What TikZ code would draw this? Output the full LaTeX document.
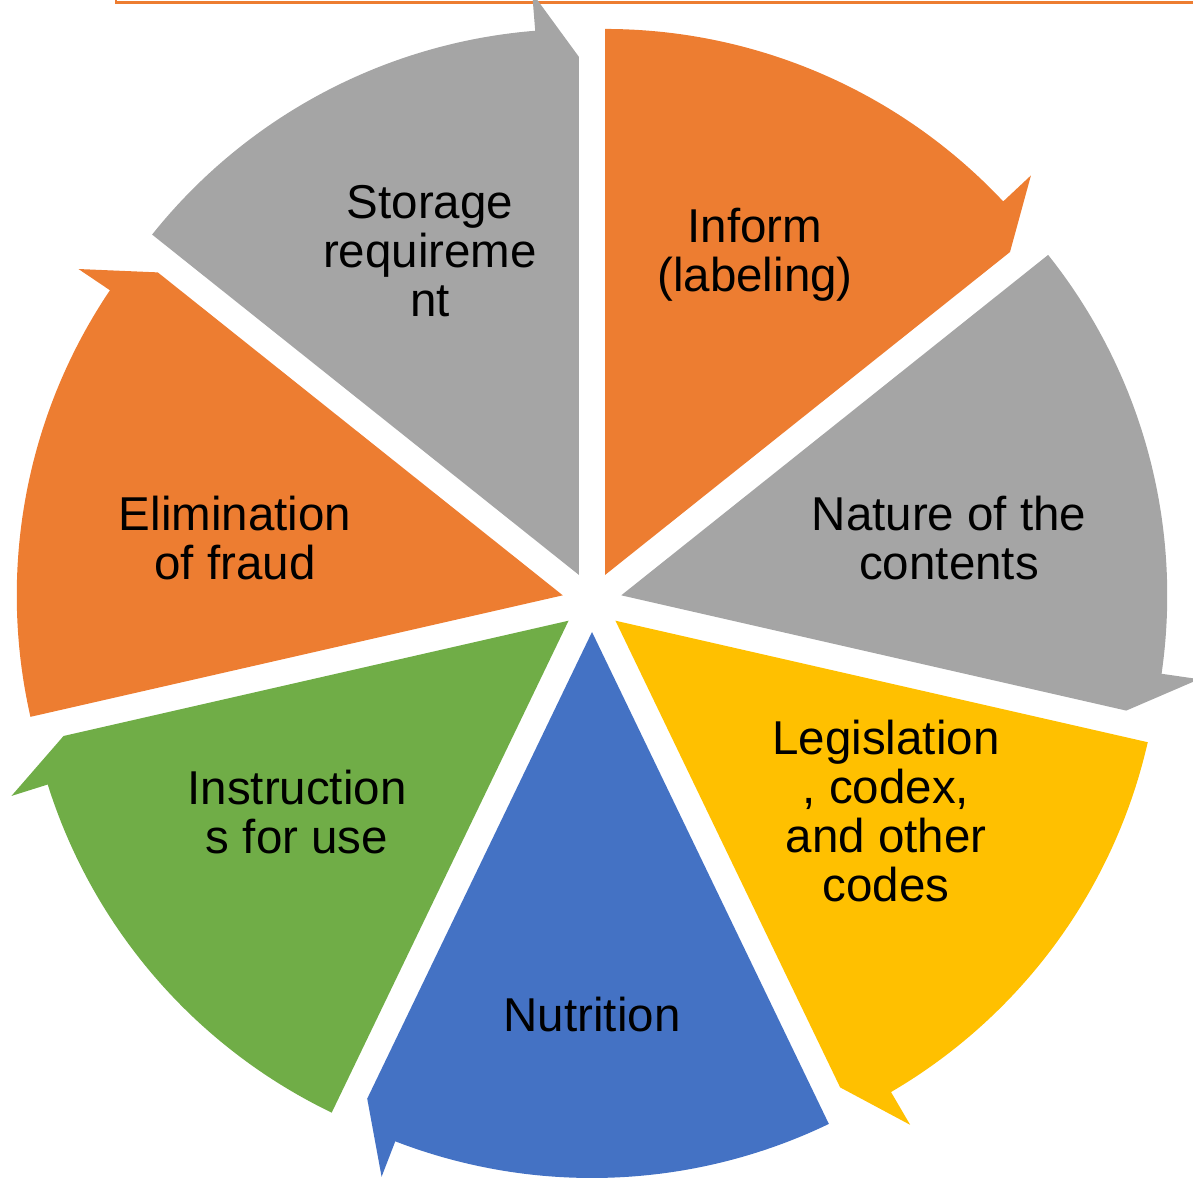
\documentclass[tikz,border=0pt]{standalone}
\usepackage{fontspec}
\setmainfont{Liberation Sans}
\usetikzlibrary{calc}

\definecolor{segOrange}{HTML}{ED7D31}
\definecolor{segGray}{HTML}{A5A5A5}
\definecolor{segYellow}{HTML}{FFC000}
\definecolor{segBlue}{HTML}{4472C4}
\definecolor{segGreen}{HTML}{70AD47}

\begin{document}
\begin{tikzpicture}[x=1pt,y=1pt,
  seglabel/.style={align=center,font=\fontsize{47.5}{49}\selectfont,inner sep=0pt}]
\useasboundingbox (0,0) rectangle (1193,1179);
\coordinate (C) at (592,577);

% frame corner at the top
\draw[segOrange,line width=2.5] (116,1179) -- (116,1176.5) -- (1193,1176.5);

% segments: start angle / colour, going clockwise
\foreach \s/\col in {141.43/segGray,90/segOrange,38.57/segGray,-12.86/segYellow,
                     -64.29/segBlue,-115.71/segGreen,-167.14/segOrange}{
  \pgfmathsetmacro{\e}{\s-51.43}
  \pgfmathsetmacro{\b}{\s-25.71}
  \pgfmathsetmacro{\h}{\e+4.6}
  \coordinate (A) at ($(C)+(\b:30)$);
  \fill[\col] (A) -- ($(A)+(\s:546)$) arc[start angle=\s,end angle=\h,radius=546]
    -- ($(A)+(\h:584)$) -- ($(A)+(\e:518)$) -- cycle;
}

\node[seglabel] (storage) at (430,928) {Storage\\requireme\\nt};
\node[seglabel] (inform) at (755,924) {Inform\\(labeling)};
\node[seglabel] (nature) at (949,641) {Nature of the\\contents};
\node[seglabel] (legislation) at (886,368) {Legislation\\, codex,\\and other\\codes};
\node[seglabel] (nutrition) at (592,164) {Nutrition};
\node[seglabel] (instructions) at (297,367) {Instruction\\s for use};
\node[seglabel] (elimination) at (235,641) {Elimination\\of fraud};
\end{tikzpicture}
\end{document}
